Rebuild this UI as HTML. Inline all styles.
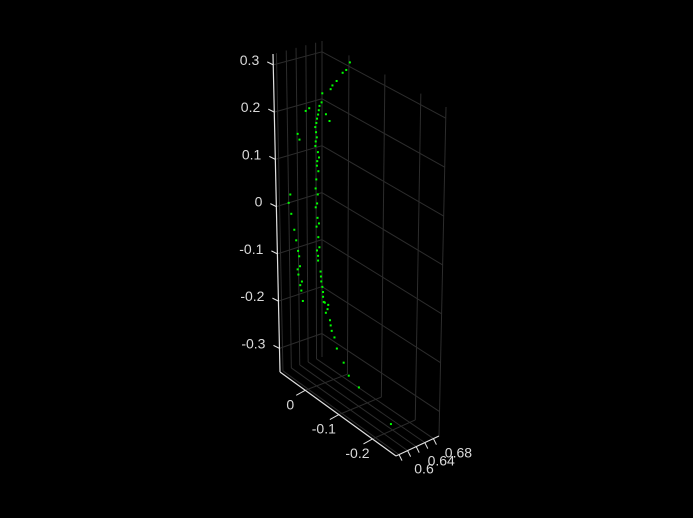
<!DOCTYPE html>
<html><head><meta charset="utf-8"><style>
html,body{margin:0;padding:0;background:#000;}
svg{display:block;}
text{font-family:"Liberation Sans",sans-serif;font-size:14px;fill:#d9d9d9;}
</style></head><body>
<svg id="chart" width="693" height="518" viewBox="0 0 693 518" xmlns="http://www.w3.org/2000/svg">
<rect x="0" y="0" width="693" height="518" fill="#000"/>
<g id="grid"></g>
<g id="axes"></g>
<g id="pts"></g>
</svg>
<script>
const xTicks=[0,-0.1,-0.2];
const xTickLabels=["0","-0.1","-0.2"];
const yTicks=[0.6,0.62,0.64,0.66,0.68];
const yTickLabels=["0.6","","0.64","","0.68"];
const zTicks=[-0.3,-0.2,-0.1,0,0.1,0.2,0.3];
const zTickLabels=["-0.3","-0.2","-0.1","0","0.1","0.2","0.3"];
const ptX=[-0.02,-0.01,0.0,0.01,0.015,0.02,0.03,0.032,0.038,0.04,0.042,0.045,0.05,0.048,0.046,0.05,0.04,0.045,0.042,0.048,0.05,0.044,0.046,0.05,0.045,0.048,0.043,0.04,0.047,0.044,0.037,0.035,0.032,0.03,0.025,0.017,0.01,0.005,-0.003,-0.01,-0.03,-0.045,-0.075,-0.17,0.07,0.075,0.068,0.06,0.055,0.05,0.047,0.045,0.04,0.042,0.038,0.02,0.01,0.06,0.055,0.05,0.04,0.047,0.049,0.043,0.046,0.041,0.044,0.036,0.03,0.028,0.022,0.015,0.008,0.052,0.05,0.045];
const ptY=[0.68,0.68,0.68,0.675,0.67,0.67,0.66,0.66,0.66,0.66,0.66,0.66,0.66,0.66,0.66,0.66,0.66,0.66,0.66,0.66,0.66,0.66,0.66,0.66,0.66,0.66,0.66,0.66,0.66,0.66,0.66,0.66,0.66,0.66,0.66,0.66,0.66,0.66,0.66,0.66,0.66,0.66,0.66,0.66,0.62,0.62,0.62,0.62,0.62,0.62,0.62,0.62,0.62,0.62,0.62,0.66,0.66,0.63,0.63,0.64,0.64,0.66,0.66,0.66,0.66,0.66,0.66,0.66,0.66,0.66,0.66,0.66,0.66,0.62,0.62,0.62];
const ptZ=[0.32,0.3,0.29,0.27,0.26,0.25,0.24,0.22,0.21,0.2,0.19,0.18,0.16,0.15,0.14,0.12,0.1,0.09,0.07,0.05,0.03,0.02,0.0,-0.01,-0.03,-0.05,-0.07,-0.09,-0.1,-0.12,-0.14,-0.16,-0.17,-0.19,-0.2,-0.21,-0.23,-0.25,-0.26,-0.28,-0.3,-0.32,-0.33,-0.36,0.02,0.0,-0.02,-0.05,-0.07,-0.09,-0.1,-0.12,-0.15,-0.17,-0.19,0.2,0.19,0.15,0.14,0.2,0.21,0.17,0.13,0.11,0.08,-0.04,-0.11,-0.15,-0.18,-0.2,-0.22,-0.2,-0.24,-0.13,-0.14,-0.16];
const XMAX=0.075,XMIN=-0.27,YMIN=0.593,YMAX=0.693,ZMIN=-0.35,ZMAX=0.323;
const C={'000':[280,372],'100':[396,456],'110':[439,436],'010':[322,357],'001':[273,54],'011':[322,41],'111':[446,107],'101':[400,123]};
function P(x,y,z){
 const u=(XMAX-x)/(XMAX-XMIN),v=(y-YMIN)/(YMAX-YMIN),w=(z-ZMIN)/(ZMAX-ZMIN);
 let sx=0,sy=0;
 for(const a of [0,1])for(const b of [0,1])for(const c of [0,1]){
  const wt=(a?u:1-u)*(b?v:1-v)*(c?w:1-w);const p=C[''+a+b+c];sx+=wt*p[0];sy+=wt*p[1];}
 return [sx,sy];}
const NS='http://www.w3.org/2000/svg';
function line(g,a,b,col,w,name){const l=document.createElementNS(NS,'line');
 l.setAttribute('x1',a[0]);l.setAttribute('y1',a[1]);l.setAttribute('x2',b[0]);l.setAttribute('y2',b[1]);
 l.setAttribute('stroke',col);l.setAttribute('stroke-width',w);
 
 
 g.appendChild(l);}
function txt(g,p,s,anchor,name){const t=document.createElementNS(NS,'text');
 t.setAttribute('x',p[0]);t.setAttribute('y',p[1]);t.setAttribute('text-anchor',anchor);t.textContent=s;
 
 
 g.appendChild(t);}
const G=document.getElementById('grid'),A=document.getElementById('axes'),PT=document.getElementById('pts');
const gc='#2c2c2c';
xTicks.forEach(x=>line(G,P(x,YMAX,ZMIN),P(x,YMAX,ZMAX),gc,1,'back-wall-x-gridline'));
zTicks.forEach(z=>line(G,P(XMAX,YMAX,z),P(XMIN,YMAX,z),gc,1,'back-wall-z-gridline'));
yTicks.forEach(y=>line(G,P(XMAX,y,ZMIN),P(XMAX,y,ZMAX),gc,1,'side-wall-y-gridline'));
zTicks.forEach(z=>line(G,P(XMAX,YMIN,z),P(XMAX,YMAX,z),gc,1,'side-wall-z-gridline'));
xTicks.forEach(x=>line(G,P(x,YMIN,ZMIN),P(x,YMAX,ZMIN),gc,1,'floor-x-gridline'));
yTicks.forEach(y=>line(G,P(XMAX,y,ZMIN),P(XMIN,y,ZMIN),gc,1,'floor-y-gridline'));
line(G,P(XMAX,YMAX,ZMIN),P(XMAX,YMAX,ZMAX),gc,1,'box-edge');
line(G,P(XMIN,YMAX,ZMIN),P(XMIN,YMAX,ZMAX),gc,1,'box-edge');
const ac='#e0e0e0';
line(A,P(XMAX,YMIN,ZMIN),P(XMAX,YMIN,ZMAX),ac,1.2,'z-axis');
line(A,P(XMAX,YMIN,ZMIN),P(XMIN,YMIN,ZMIN),ac,1.2,'x-axis');
line(A,P(XMIN,YMIN,ZMIN),P(XMIN,YMAX,ZMIN),ac,1.2,'y-axis');
zTicks.forEach((z,i)=>{const p=P(XMAX,YMIN,z);line(A,p,[p[0]-6,p[1]-3],ac,1,'z-tick');
 txt(A,[p[0]-14,p[1]+0],zTickLabels[i],'end','z-tick-label');});
xTicks.forEach((x,i)=>{const p=P(x,YMIN,ZMIN);line(A,p,[p[0]-9,p[1]+5],ac,1,'x-tick');
 txt(A,[p[0]-15,p[1]+19],xTickLabels[i],'middle','x-tick-label');});
yTicks.forEach((y,i)=>{const p=P(XMIN,y,ZMIN);line(A,p,[p[0]+3,p[1]+6],ac,1,'y-tick');
 if(yTickLabels[i])txt(A,[p[0]+25,p[1]+19],yTickLabels[i],'middle','y-tick-label');});
ptX.forEach((x,i)=>{const p=P(x,ptY[i],ptZ[i]);const r=document.createElementNS(NS,'rect');
 r.setAttribute('x',p[0]-1);r.setAttribute('y',p[1]-1);r.setAttribute('width',2);r.setAttribute('height',2);r.setAttribute('fill','#00ff00');
 
 
 PT.appendChild(r);});
</script>
</body></html>
